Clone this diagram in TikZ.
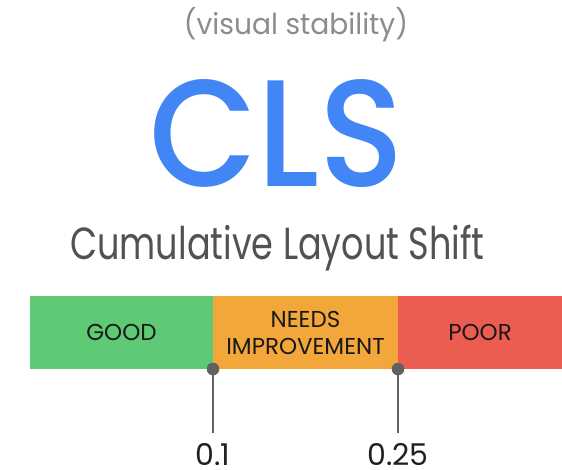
\documentclass[tikz,border=0pt]{standalone}
\usepackage{fontspec}
\setmainfont{Poppins}
\newfontfamily\metricfont{Poppins Medium}
\usepackage{xcolor}
\definecolor{colorGood}{RGB}{94,202,117}
\definecolor{colorNeeds}{RGB}{243,167,58}
\definecolor{colorPoor}{RGB}{236,92,80}
\definecolor{colorMetric}{RGB}{66,133,244}
\colorlet{colorTick}{black!62}
\usetikzlibrary{positioning}
\tikzset{band/.style={minimum height=73pt, inner sep=0pt, outer sep=0pt, anchor=north west, align=center, text=black!90, font=\fontsize{23}{27}\selectfont}}
\tikzset{threshold/.style={anchor=base, text=black!88, font=\fontsize{30}{36}\selectfont}}

\begin{document}
\begin{tikzpicture}[x=1pt, y=-1pt, every node/.style={inner sep=0pt}]
\useasboundingbox (0,0) rectangle (562,470);
% titles
\node[anchor=base, text=black!45, font=\fontsize{29}{34}\selectfont] (sub) at (296,35) {\scalebox{0.97}[1]{(visual stability)}};
\node[anchor=base, text=colorMetric, font=\fontsize{152}{152}\metricfont] (cls) at (277,187) {\scalebox{0.92}[1]{CLS}};
\node[anchor=base, text=black!68, font=\fontsize{45}{50}\selectfont] (name) at (277.5,260) {\scalebox{0.78}[1]{Cumulative Layout Shift}};
% bar
\node[band, fill=colorGood, minimum width=183pt] (good) at (30,296) {GOOD};
\node[band, fill=colorNeeds, minimum width=185pt, right=0pt of good] (needs) {NEEDS\\IMPROVEMENT};
\node[band, fill=colorPoor, minimum width=164pt, right=0pt of needs] (poor) {POOR};
% thresholds
\coordinate (t1) at (good.south east);
\coordinate (t2) at (needs.south east);
\coordinate (t1end) at (213,433);
\coordinate (t2end) at (398,433);
\draw[colorTick, line width=1.6pt] (t1) -- (t1end);
\draw[colorTick, line width=1.6pt] (t2) -- (t2end);
\fill[colorTick] (t1) circle (6.3pt);
\fill[colorTick] (t2) circle (6.3pt);
\node[threshold] (v1) at (213,465) {0.1};
\node[threshold] (v2) at (398,465) {0.25};
\end{tikzpicture}
\end{document}
